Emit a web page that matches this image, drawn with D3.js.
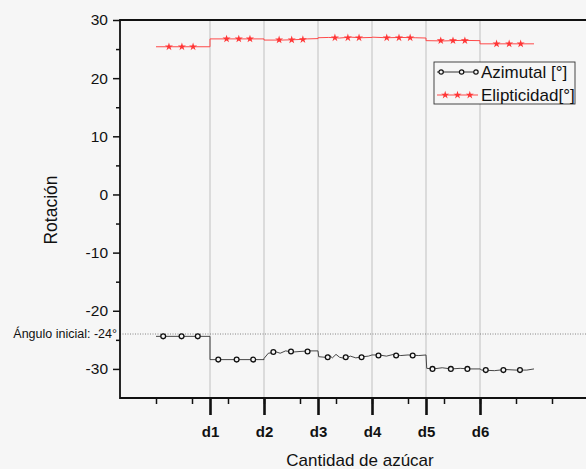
<!DOCTYPE html>
<html>
<head>
<meta charset="utf-8">
<script src="https://cdn.jsdelivr.net/npm/d3@7/dist/d3.min.js"></script>
<style>
  body { margin: 0; background: #f6f6f6; }
  svg { display: block; font-family: "Liberation Sans", Arial, sans-serif; }
</style>
</head>
<body>
<svg id="chart" width="586" height="469"></svg>
<script>
// categories on the x axis (sugar amounts)
const dLabels = ["d1", "d2", "d3", "d4", "d5", "d6"];
const dPos = [2.5, 4, 5.5, 7, 8.5, 10];
const minorX = [1, 2, 3, 4, 5, 6, 7, 8, 9, 10, 11, 12];

const yMajor = [30, 20, 10, 0, -10, -20, -30];
const yMinor = [25, 15, 5, -5, -15, -25];
const initialAngle = -24;

// Azimutal [°] trace
const azLine = [
  [1.0, -24.4], [2.5, -24.4],
  [2.5, -28.4], [4.0, -28.4],
  [4.0, -28.2], [4.12, -27.3], [4.35, -27.1], [4.45, -27.3], [4.6, -26.9], [4.8, -27.1],
  [5.0, -27.0], [5.25, -26.9], [5.5, -26.9],
  [5.52, -27.9], [5.7, -28.0], [5.8, -27.6], [5.9, -28.1], [6.0, -27.5], [6.1, -28.0],
  [6.25, -28.2], [6.4, -27.8], [6.55, -28.1], [6.75, -27.9], [6.9, -27.8], [7.0, -27.6],
  [7.2, -27.6], [7.4, -27.8], [7.6, -27.5], [7.8, -27.7], [8.0, -27.6], [8.3, -27.7], [8.5, -27.6],
  [8.52, -29.9], [8.7, -30.0], [8.95, -29.8], [9.2, -30.0], [9.45, -29.9], [9.7, -30.0], [10.0, -30.0],
  [10.05, -30.2], [10.4, -30.3], [10.7, -30.1], [11.0, -30.2], [11.3, -30.2], [11.5, -30.0]
];
const azMarkers = [
  [1.20, -24.4], [1.71, -24.4], [2.16, -24.4],
  [2.73, -28.4], [3.24, -28.4], [3.70, -28.4],
  [4.26, -27.1], [4.75, -27.0], [5.21, -27.0],
  [5.77, -28.0], [6.27, -28.0], [6.71, -28.0],
  [7.18, -27.7], [7.67, -27.7], [8.13, -27.7],
  [8.68, -30.0], [9.19, -30.0], [9.65, -30.0],
  [10.16, -30.2], [10.65, -30.2], [11.11, -30.2]
];

// Elipticidad [°] trace
const elLine = [
  [1.0, 25.4], [2.5, 25.4],
  [2.5, 26.75], [4.0, 26.75],
  [4.0, 26.55], [4.5, 26.55], [4.8, 26.6], [5.0, 26.65], [5.2, 26.75], [5.5, 26.8],
  [5.5, 26.95], [5.8, 27.0], [6.1, 26.9], [6.4, 27.05], [6.7, 26.95], [7.0, 27.0],
  [7.0, 27.05], [7.4, 26.95], [7.8, 27.0], [8.2, 26.95], [8.5, 26.9],
  [8.5, 26.45], [9.0, 26.4], [9.5, 26.5], [10.0, 26.45],
  [10.0, 25.9], [11.5, 25.9]
];
const elMarkers = [
  [1.36, 25.4], [1.72, 25.4], [2.03, 25.4],
  [2.96, 26.75], [3.30, 26.75], [3.61, 26.75],
  [4.42, 26.6], [4.77, 26.6], [5.08, 26.65],
  [5.97, 26.95], [6.33, 26.95], [6.64, 26.95],
  [7.41, 26.95], [7.75, 26.95], [8.06, 26.95],
  [8.91, 26.45], [9.25, 26.45], [9.58, 26.45],
  [10.46, 25.9], [10.81, 25.9], [11.13, 25.9]
];

const legendItems = [
  { name: "Azimutal [°]", kind: "circle" },
  { name: "Elipticidad[°]", kind: "star" }
];

const svg = d3.select("#chart");
const plotLeft = 120, plotTop = 20, plotBottom = 398, plotRight = 588;

const x = d3.scaleLinear().domain([0, 13]).range([plotLeft, plotRight]);
const y = d3.scaleLinear().domain([-35, 30]).range([plotBottom, plotTop]);

svg.append("rect").attr("width", 586).attr("height", 469).attr("fill", "#f6f6f6");

// vertical lines at each d
svg.append("g")
  .selectAll("line")
  .data(dPos)
  .join("line")
  .attr("x1", (d) => x(d)).attr("x2", (d) => x(d))
  .attr("y1", plotTop).attr("y2", plotBottom)
  .attr("stroke", "#b4b4b4")
  .attr("stroke-width", 0.8);

// initial angle reference
svg.append("line")
  .attr("x1", plotLeft).attr("x2", 586)
  .attr("y1", y(initialAngle)).attr("y2", y(initialAngle))
  .attr("stroke", "#777")
  .attr("stroke-width", 0.9)
  .attr("stroke-dasharray", "1,1.5");

// lines
const line = d3.line().x((d) => x(d[0])).y((d) => y(d[1]));

svg.append("path")
  .datum(elLine)
  .attr("fill", "none")
  .attr("stroke", "#ff4a4a")
  .attr("stroke-width", 1)
  .attr("d", line);

svg.append("path")
  .datum(azLine)
  .attr("fill", "none")
  .attr("stroke", "#333")
  .attr("stroke-width", 0.9)
  .attr("d", line);

const star = d3.symbol().type(d3.symbolStar).size(20);

svg.append("g")
  .selectAll("path")
  .data(elMarkers)
  .join("path")
  .attr("transform", (d) => "translate(" + x(d[0]) + "," + y(d[1]) + ")")
  .attr("d", star)
  .attr("fill", "#ff3535");

svg.append("g")
  .selectAll("circle")
  .data(azMarkers)
  .join("circle")
  .attr("cx", (d) => x(d[0]))
  .attr("cy", (d) => y(d[1]))
  .attr("r", 2.4)
  .attr("fill", "#f6f6f6")
  .attr("stroke", "#111")
  .attr("stroke-width", 1.3);

// axes
const styleAxis = (g) => {
  g.select(".domain").remove();
  g.selectAll(".tick line").attr("stroke", "#111").attr("stroke-width", 1.5);
};

svg.append("g")
  .attr("transform", "translate(" + plotLeft + ",0)")
  .call(d3.axisLeft(y).tickValues(yMinor).tickSize(4).tickFormat(""))
  .call(styleAxis);

svg.append("g")
  .attr("transform", "translate(" + plotLeft + ",0)")
  .call(d3.axisLeft(y).tickValues(yMajor).tickSize(7).tickPadding(5))
  .call(styleAxis)
  .call((g) => g.selectAll("text")
    .attr("font-size", 15.5)
    .attr("fill", "#111")
    .text((d) => (d < 0 ? "-" + Math.abs(d) : d)));

svg.append("g")
  .attr("transform", "translate(0," + plotBottom + ")")
  .call(d3.axisBottom(x).tickValues(minorX).tickSize(6).tickFormat(""))
  .call(styleAxis);

svg.append("g")
  .attr("transform", "translate(0," + plotBottom + ")")
  .call(d3.axisBottom(x).tickValues(dPos).tickSize(17).tickPadding(11)
    .tickFormat((d, i) => dLabels[i]))
  .call(styleAxis)
  .call((g) => g.selectAll(".tick line").attr("stroke-width", 2.6))
  .call((g) => g.selectAll("text")
    .attr("font-size", 15)
    .attr("font-weight", "bold")
    .attr("fill", "#111"));

// frame lines
svg.append("path")
  .attr("d", "M586," + plotTop + "H" + plotLeft + "V" + plotBottom + "H586")
  .attr("fill", "none")
  .attr("stroke", "#111")
  .attr("stroke-width", 1.8);

// initial angle label
svg.append("text")
  .attr("x", 117)
  .attr("y", y(initialAngle) + 4)
  .attr("text-anchor", "end")
  .attr("font-size", 12.5)
  .attr("fill", "#111")
  .text("Ángulo inicial: -24°");

// axis titles
svg.append("text")
  .attr("x", 360)
  .attr("y", 466)
  .attr("text-anchor", "middle")
  .attr("font-size", 17)
  .attr("fill", "#111")
  .text("Cantidad de azúcar");

svg.append("text")
  .attr("transform", "translate(57,210) rotate(-90)")
  .attr("text-anchor", "middle")
  .attr("font-size", 17.5)
  .attr("fill", "#111")
  .text("Rotación");

// legend
const legend = svg.append("g").attr("transform", "translate(434,62)");
legend.append("rect")
  .attr("width", 141).attr("height", 42)
  .attr("fill", "#f6f6f6")
  .attr("stroke", "#333")
  .attr("stroke-width", 0.9);

const lx = d3.scaleLinear().domain([0, 1]).range([3, 44]);
legendItems.forEach((item, i) => {
  const ly = 10 + i * 23;
  const color = item.kind === "star" ? "#ff4a4a" : "#333";
  legend.append("line")
    .attr("x1", lx(0)).attr("x2", lx(1))
    .attr("y1", ly).attr("y2", ly)
    .attr("stroke", color).attr("stroke-width", 1);
  const marks = item.kind === "star" ? [0.2, 0.5, 0.8] : [0.1, 0.6, 0.95];
  marks.forEach((m) => {
    if (item.kind === "star") {
      legend.append("path")
        .attr("transform", "translate(" + lx(m) + "," + ly + ")")
        .attr("d", star)
        .attr("fill", "#ff3535");
    } else {
      legend.append("circle")
        .attr("cx", lx(m)).attr("cy", ly).attr("r", 2.2)
        .attr("fill", "#f6f6f6").attr("stroke", "#111").attr("stroke-width", 1.2);
    }
  });
  legend.append("text")
    .attr("x", 47)
    .attr("y", ly + 6)
    .attr("font-size", 17)
    .attr("fill", "#111")
    .text(item.name);
});
</script>
</body>
</html>
